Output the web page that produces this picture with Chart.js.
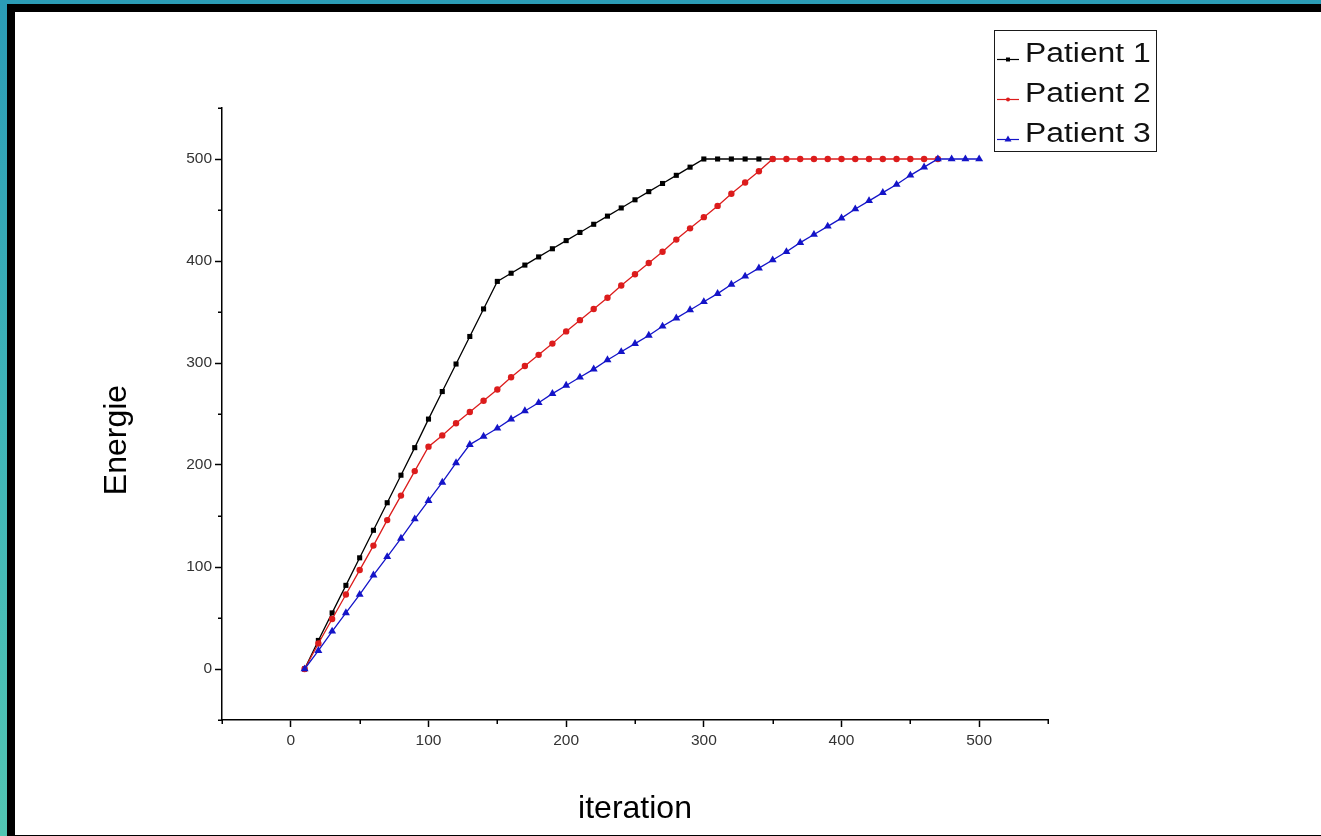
<!DOCTYPE html>
<html>
<head>
<meta charset="utf-8">
<style>
    html, body {
        margin: 0;
        width: 1321px;
        height: 836px;
        overflow: hidden;
        background: linear-gradient(to bottom, #2b9cb6, #3fb5b8 50%, #52c6b3);
    }
    .frame {
        position: absolute;
        left: 7px;
        top: 4px;
        width: 1306px;
        height: 823px;
        background: #fff;
        border-left: 8px solid #000;
        border-top: 8px solid #000;
        border-bottom: 1px solid #000;
    }
    #energyChart {
        position: absolute;
        left: 0;
        top: 0;
    }
</style>
</head>
<body>
<div class="frame"></div>
<canvas id="energyChart" width="1321" height="836"></canvas>

<script src="https://cdn.jsdelivr.net/npm/chart.js@4.4.1/dist/chart.umd.min.js"></script>
<script>
    // iteration steps shared by the three runs
    const iterations = [10, 20, 30, 40, 50, 60, 70, 80, 90, 100,
        110, 120, 130, 140, 150, 160, 170, 180, 190, 200,
        210, 220, 230, 240, 250, 260, 270, 280, 290, 300,
        310, 320, 330, 340, 350, 360, 370, 380, 390, 400,
        410, 420, 430, 440, 450, 460, 470, 480, 490, 500]

    const patient1 = [0, 28, 55, 82, 109, 136, 163, 190, 217, 245,
        272, 299, 326, 353, 380, 388, 396, 404, 412, 420,
        428, 436, 444, 452, 460, 468, 476, 484, 492, 500,
        500, 500, 500, 500, 500]

    const patient2 = [0, 25, 49, 73, 97, 121, 146, 170, 194, 218,
        229, 241, 252, 263, 274, 286, 297, 308, 319, 331,
        342, 353, 364, 376, 387, 398, 409, 421, 432, 443,
        454, 466, 477, 488, 500, 500, 500, 500, 500, 500,
        500, 500, 500, 500, 500, 500, 500]

    const patient3 = [0, 18, 37, 55, 73, 92, 110, 128, 147, 165,
        183, 202, 220, 228, 236, 245, 253, 261, 270, 278,
        286, 294, 303, 311, 319, 327, 336, 344, 352, 360,
        368, 377, 385, 393, 401, 409, 418, 426, 434, 442,
        451, 459, 467, 475, 484, 492, 500, 500, 500, 500]

    const seriesNames = ['Patient 1', 'Patient 2', 'Patient 3']
    const seriesColors = ['#000000', '#dc1c1c', '#1414c8']

    const toPoints = values => values.map((v, i) => ({x: iterations[i], y: v}))

    const fontFamily = "'Liberation Sans', Arial, sans-serif"
    const tickFont = {family: fontFamily, size: 15.5}
    const titleFont = {family: fontFamily, size: 32}

    // short ticks at the odd 50s, long ones (drawn by the grid) at the 100s
    const minorTicks = {
        id: 'minorTicks',
        afterDraw(chart) {
            const ctx = chart.ctx
            const xs = chart.scales.x, ys = chart.scales.y
            const area = chart.chartArea
            ctx.save()
            ctx.strokeStyle = '#000'
            ctx.lineWidth = 1.5
            ctx.beginPath()
            for (let v = -50; v <= 550; v += 100) {
                const px = Math.round(xs.getPixelForValue(v)) + 0.25
                ctx.moveTo(px, area.bottom)
                ctx.lineTo(px, area.bottom + 4)
                const py = Math.round(ys.getPixelForValue(v)) + 0.25
                ctx.moveTo(area.left, py)
                ctx.lineTo(area.left - 4, py)
            }
            ctx.stroke()
            ctx.restore()
        }
    }

    // vertical axis title, set a bit below the middle of the axis
    const yAxisTitle = {
        id: 'yAxisTitle',
        afterDraw(chart, args, opts) {
            const ctx = chart.ctx
            const area = chart.chartArea
            ctx.save()
            ctx.translate(opts.x, (area.top + area.bottom) / 2 + opts.shift)
            ctx.rotate(-Math.PI / 2)
            ctx.font = `${titleFont.size}px ${fontFamily}`
            ctx.fillStyle = '#000'
            ctx.textAlign = 'center'
            ctx.textBaseline = 'middle'
            ctx.fillText(opts.text, 0, 0)
            ctx.restore()
        }
    }

    // boxed legend sitting top right, outside the plot
    const boxLegend = {
        id: 'boxLegend',
        afterDraw(chart, args, opts) {
            const ctx = chart.ctx
            ctx.save()
            ctx.strokeStyle = '#1a1a1a'
            ctx.lineWidth = 1
            ctx.strokeRect(opts.x + 0.5, opts.y + 0.5, opts.width, opts.height)
            chart.data.datasets.forEach((ds, i) => {
                const base = opts.y + opts.firstBaseline + i * opts.rowGap
                const ly = base - 2.5
                const mx = opts.x + 14
                ctx.strokeStyle = ds.borderColor
                ctx.fillStyle = ds.borderColor
                ctx.lineWidth = 1.2
                ctx.beginPath()
                ctx.moveTo(opts.x + 3, ly)
                ctx.lineTo(opts.x + 25, ly)
                ctx.stroke()
                ctx.beginPath()
                if (ds.pointStyle === 'rect') {
                    ctx.rect(mx - 2, ly - 2, 4, 4)
                } else if (ds.pointStyle === 'triangle') {
                    ctx.moveTo(mx, ly - 4)
                    ctx.lineTo(mx + 3.5, ly + 2)
                    ctx.lineTo(mx - 3.5, ly + 2)
                    ctx.closePath()
                } else {
                    ctx.arc(mx, ly, 2, 0, Math.PI * 2)
                }
                ctx.fill()

                ctx.fillStyle = '#111'
                ctx.font = `27px ${fontFamily}`
                ctx.textBaseline = 'alphabetic'
                ctx.textAlign = 'left'
                ctx.translate(opts.x + 31, base)
                ctx.scale(1.18, 1)
                ctx.fillText(ds.label, 0, 0)
                ctx.setTransform(1, 0, 0, 1, 0, 0)
            })
            ctx.restore()
        }
    }

    const ctx = document.getElementById('energyChart').getContext('2d')
    const chart = new Chart(ctx, {
        type: 'line',
        data: {
            datasets: [{
                label: seriesNames[0],
                data: toPoints(patient1),
                borderColor: seriesColors[0],
                backgroundColor: seriesColors[0],
                borderWidth: 1.3,
                pointStyle: 'rect',
                pointRadius: 3.6,
                pointBorderWidth: 0,
                order: 3
            }, {
                label: seriesNames[1],
                data: toPoints(patient2),
                borderColor: seriesColors[1],
                backgroundColor: seriesColors[1],
                borderWidth: 1.3,
                pointStyle: 'circle',
                pointRadius: 3.2,
                pointBorderWidth: 0,
                order: 2
            }, {
                label: seriesNames[2],
                data: toPoints(patient3),
                borderColor: seriesColors[2],
                backgroundColor: seriesColors[2],
                borderWidth: 1.3,
                pointStyle: 'triangle',
                pointRadius: 4.6,
                pointBorderWidth: 0,
                order: 1
            }]
        },
        options: {
            responsive: false,
            maintainAspectRatio: false,
            devicePixelRatio: 1,
            animation: false,
            layout: {
                padding: {left: 99, top: 108, right: 273, bottom: 8}
            },
            plugins: {
                legend: {display: false},
                tooltip: {enabled: false},
                yAxisTitle: {text: 'Energie', x: 117, shift: 26},
                boxLegend: {x: 994, y: 30, width: 162, height: 121, firstBaseline: 32, rowGap: 40}
            },
            scales: {
                x: {
                    type: 'linear',
                    min: -50,
                    max: 550,
                    afterFit: s => { s.height = 108 },
                    border: {display: true, color: '#000', width: 1.5},
                    grid: {
                        drawOnChartArea: false,
                        drawTicks: true,
                        tickLength: 7,
                        tickWidth: 1.5,
                        tickColor: c => (c.tick && c.tick.value % 100 === 0) ? '#000' : 'rgba(0,0,0,0)'
                    },
                    ticks: {
                        stepSize: 50,
                        autoSkip: false,
                        maxRotation: 0,
                        padding: 4,
                        color: '#333',
                        font: tickFont,
                        callback: v => (v % 100 === 0 ? v : '')
                    },
                    title: {
                        display: true,
                        text: 'iteration',
                        color: '#000',
                        font: titleFont,
                        padding: 0
                    }
                },
                y: {
                    type: 'linear',
                    min: -50,
                    max: 550,
                    afterFit: s => { s.width = 123 },
                    border: {display: true, color: '#000', width: 1.5},
                    grid: {
                        drawOnChartArea: false,
                        drawTicks: true,
                        tickLength: 7,
                        tickWidth: 1.5,
                        tickColor: c => (c.tick && c.tick.value % 100 === 0) ? '#000' : 'rgba(0,0,0,0)'
                    },
                    ticks: {
                        stepSize: 50,
                        autoSkip: false,
                        padding: 3,
                        color: '#333',
                        font: tickFont,
                        callback: v => (v % 100 === 0 ? v : '')
                    }
                }
            }
        },
        plugins: [minorTicks, yAxisTitle, boxLegend]
    });
</script>
</body>
</html>
